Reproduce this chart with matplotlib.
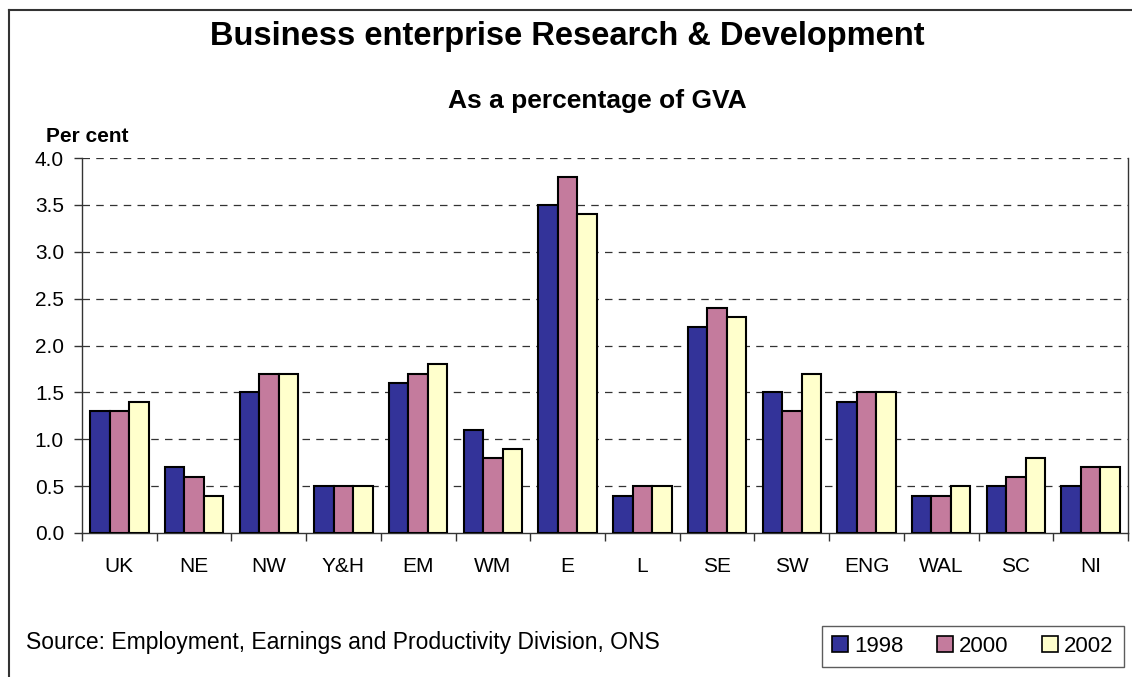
import matplotlib
matplotlib.use("Agg")
import matplotlib.pyplot as plt
import numpy as np
from matplotlib.patches import Patch
from matplotlib.lines import Line2D

regions = ["UK", "NE", "NW", "Y&H", "EM", "WM", "E", "L", "SE", "SW", "ENG", "WAL", "SC", "NI"]
v1998 = [1.3, 0.7, 1.5, 0.5, 1.6, 1.1, 3.5, 0.4, 2.2, 1.5, 1.4, 0.4, 0.5, 0.5]
v2000 = [1.3, 0.6, 1.7, 0.5, 1.7, 0.8, 3.8, 0.5, 2.4, 1.3, 1.5, 0.4, 0.6, 0.7]
v2002 = [1.4, 0.4, 1.7, 0.5, 1.8, 0.9, 3.4, 0.5, 2.3, 1.7, 1.5, 0.5, 0.8, 0.7]
years = ["1998", "2000", "2002"]
yticks = [0.0, 0.5, 1.0, 1.5, 2.0, 2.5, 3.0, 3.5, 4.0]

colors = ["#333399", "#C47B9D", "#FFFFCC"]

plt.rcParams['font.family'] = ['Liberation Sans', 'DejaVu Sans']

fig = plt.figure(figsize=(11.32, 6.77), dpi=100)
ax = fig.add_axes([82/1132, 1-533/677, (1128-82)/1132, (533-158)/677])

x = np.arange(len(regions))
w = 1/3.83
for i, (vals, c) in enumerate(zip([v1998, v2000, v2002], colors)):
    ax.bar(x + (i-1)*w, vals, width=w, color=c, edgecolor="black", linewidth=1.5, zorder=3)

ax.set_xlim(-0.5, len(regions)-0.5)
ax.set_ylim(0, 4.0)
ax.set_yticks(yticks)
ax.set_yticklabels([f"{t:.1f}" for t in yticks], fontsize=15)
ax.set_xticks(x)
ax.set_xticklabels(regions, fontsize=15)
ax.set_xticks(np.arange(-0.5, len(regions)), minor=True)
ax.tick_params(axis='x', which='major', length=0, pad=17)
ax.tick_params(axis='x', which='minor', length=6, width=1, direction='out', color='#333333')
ax.tick_params(axis='y', length=6, width=1, direction='out', color='#333333', pad=7)

for t in yticks[1:]:
    ax.axhline(t, color='#333333', linestyle=(0, (6, 5)), linewidth=0.9, zorder=1)

ax.spines['top'].set_visible(False)
ax.spines['right'].set_color('#333333')
ax.spines['left'].set_color('#333333')
ax.spines['bottom'].set_color('#333333')
for s in ['left', 'bottom', 'right']:
    ax.spines[s].set_linewidth(1.0)

# outer frame (left and top visible)
fig.add_artist(Line2D([9/1132, 9/1132], [0, 1-10/677], transform=fig.transFigure, color='#333333', linewidth=1.5))
fig.add_artist(Line2D([9/1132, 1131/1132], [1-10/677, 1-10/677], transform=fig.transFigure, color='#333333', linewidth=1.5))

fig.text(567/1132, 1-37/677, "Business enterprise Research & Development", fontsize=23.5, fontweight='bold',
         ha='center', va='center')
fig.text(597/1132, 1-101/677, "As a percentage of GVA", fontsize=19, fontweight='bold', ha='center', va='center')
fig.text(46/1132, 1-137/677, "Per cent", fontsize=15, fontweight='bold', ha='left', va='center')
fig.text(26/1132, 1-643/677, "Source: Employment, Earnings and Productivity Division, ONS", fontsize=16.5,
         ha='left', va='center')

handles = [Patch(facecolor=c, edgecolor='black', linewidth=1.2) for c in colors]
leg = fig.legend(handles, years, loc='center', bbox_to_anchor=(973/1132, 1-646/677), ncol=3, fontsize=16,
                 frameon=True, fancybox=False, edgecolor='#333333', handlelength=0.7, handleheight=0.7,
                 handletextpad=0.3, columnspacing=1.5, borderpad=0.45)
leg.get_frame().set_linewidth(1.0)

fig.savefig("out.png", dpi=100)
